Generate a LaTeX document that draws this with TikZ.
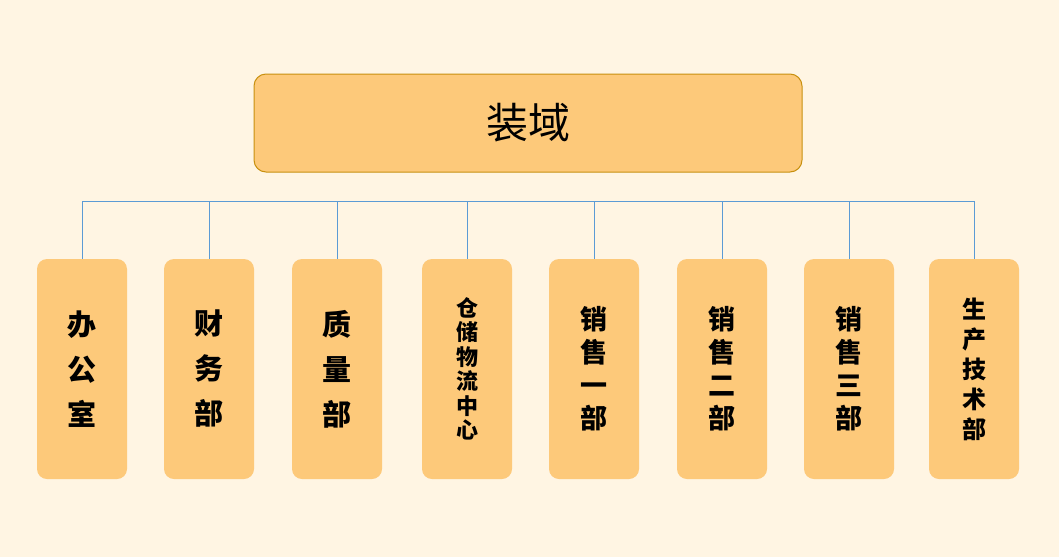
\documentclass[tikz,border=0pt]{standalone}
\usepackage{fontspec}
\newfontfamily\cjk{Noto Sans CJK SC}
\definecolor{bg}{HTML}{FFF5E3}
\definecolor{boxf}{HTML}{FDC97A}
\definecolor{boxd}{HTML}{C8900F}
\definecolor{ln}{HTML}{5B9BD5}
\begin{document}
\begin{tikzpicture}[x=1pt,y=-1pt,
  child/.style={fill=boxf,rounded corners=10pt,minimum width=90pt,minimum height=220pt,inner sep=0pt,align=center},
  conn/.style={draw=ln,line width=0.6pt}]
\fill[bg] (0,0) rectangle (1059,557);
\useasboundingbox (0,0) rectangle (1059,557);
\node[fill=boxf,draw=boxd,line width=1pt,rounded corners=12pt,minimum width=548pt,minimum height=98pt,font=\cjk\fontsize{42}{48}\selectfont] (top) at (528,123) {装域};
\coordinate (bar) at (528,201);
\node[child,font=\cjk\bfseries\fontsize{29}{45}\selectfont] (c1) at (82,369) {办\\公\\室};
\node[child,font=\cjk\bfseries\fontsize{29}{45}\selectfont] (c2) at (209,369) {财\\务\\部};
\node[child,font=\cjk\bfseries\fontsize{29}{45}\selectfont] (c3) at (337,369) {质\\量\\部};
\node[child,font=\cjk\bfseries\fontsize{22}{24.5}\selectfont] (c4) at (467,369) {仓\\储\\物\\流\\中\\心};
\node[child,font=\cjk\bfseries\fontsize{27}{33}\selectfont] (c5) at (594,369) {销\\售\\一\\部};
\node[child,font=\cjk\bfseries\fontsize{27}{33}\selectfont] (c6) at (722,369) {销\\售\\二\\部};
\node[child,font=\cjk\bfseries\fontsize{27}{33}\selectfont] (c7) at (849,369) {销\\售\\三\\部};
\node[child,font=\cjk\bfseries\fontsize{24}{30}\selectfont] (c8) at (974,369) {生\\产\\技\\术\\部};
\draw[conn] (c1.north) -- (c1.north |- bar) -- (c8.north |- bar) -- (c8.north);
\foreach \n in {c2,c3,c4,c5,c6,c7} \draw[conn] (\n.north) -- (\n.north |- bar);
\end{tikzpicture}
\end{document}
